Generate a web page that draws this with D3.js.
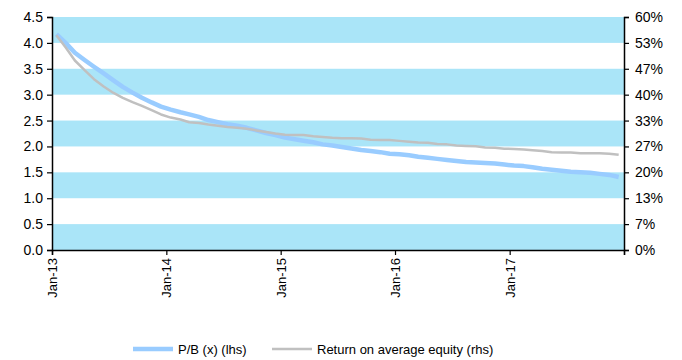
<!DOCTYPE html>
<html><head><meta charset="utf-8">
<script src="https://cdn.jsdelivr.net/npm/d3@7"></script>
<style>body{margin:0;background:#fff;} text{font-family:"Liberation Sans",Arial,sans-serif;fill:#000;}</style>
</head><body><svg id="c" width="682" height="360"></svg>
<script>
const startYear = 2013;
const pbValues = [4.17,3.99,3.81,3.67,3.54,3.41,3.28,3.15,3.04,2.94,2.85,2.77,
  2.71,2.66,2.62,2.57,2.51,2.47,2.43,2.40,2.36,2.31,2.26,2.22,
  2.17,2.14,2.11,2.08,2.04,2.02,1.99,1.96,1.93,1.91,1.89,1.86,
  1.85,1.83,1.80,1.78,1.76,1.74,1.72,1.70,1.69,1.68,1.67,1.65,
  1.63,1.62,1.60,1.57,1.55,1.53,1.51,1.50,1.49,1.47,1.45,1.41];
const roeValues = [55.3,52.0,48.8,46.3,44.0,42.1,40.5,39.2,38.1,37.1,36.0,34.9,
  34.1,33.6,32.9,32.7,32.3,32.0,31.7,31.5,31.2,30.8,30.4,30.0,
  29.7,29.6,29.6,29.3,29.1,28.9,28.8,28.8,28.7,28.4,28.3,28.3,
  28.1,27.9,27.7,27.6,27.3,27.2,26.9,26.8,26.7,26.4,26.3,26.1,
  26.0,25.9,25.7,25.5,25.2,25.1,25.1,24.9,24.9,24.9,24.8,24.5];
const leftTicks = [0,0.5,1,1.5,2,2.5,3,3.5,4,4.5];
const rightTicks = [0,60/9,120/9,20,240/9,300/9,40,420/9,480/9,60];
const xTickLabels = ["Jan-13","Jan-14","Jan-15","Jan-16","Jan-17"];
const seriesNames = ["P/B (x) (lhs)","Return on average equity (rhs)"];

const dates = pbValues.map((d,i)=>new Date(startYear, i, 15));
const svg = d3.select("#c");
const L=52, R=624, T=17, B=250;
const x = d3.scaleTime().domain([new Date(2013,0,1), new Date(2018,0,1)]).range([L,R]);
const yL = d3.scaleLinear().domain([0,4.5]).range([B,T]);
const yR = d3.scaleLinear().domain([0,60]).range([B,T]);

// bands
const bands = [0,1,2,3,4].map(k=>[k, k+0.5]);
svg.append("g").selectAll("rect").data(bands).join("rect")
  .attr("x",L).attr("width",R-L)
  .attr("y",d=>yL(d[1])).attr("height",d=>yL(d[0])-yL(d[1]))
  .attr("fill","#aae5f8");

const line = (ys,vals)=>d3.line().x((d,i)=>x(dates[i])).y(d=>ys(d))(vals);
svg.append("path").attr("d",line(yL,pbValues)).attr("fill","none")
  .attr("stroke","#99ccff").attr("stroke-width",4.5).attr("stroke-linejoin","round");
svg.append("path").attr("d",line(yR,roeValues)).attr("fill","none")
  .attr("stroke","#c0c0c0").attr("stroke-width",2.5).attr("stroke-linejoin","round");

// axes
const axL = d3.axisLeft(yL).tickValues(leftTicks).tickFormat(d3.format(".1f")).tickSizeOuter(0).tickSize(5).tickPadding(4);
const gL = svg.append("g").attr("transform",`translate(${L},0)`).call(axL);
const axR = d3.axisRight(yR).tickValues(rightTicks).tickFormat(d=>Math.round(d)+"%").tickSizeOuter(0).tickSize(5).tickPadding(6);
const gR = svg.append("g").attr("transform",`translate(${R},0)`).call(axR);
const xTicks = xTickLabels.map((s,i)=>new Date(startYear+i,0,1)).concat([new Date(2018,0,1)]);
const axX = d3.axisBottom(x).tickValues(xTicks).tickFormat((d,i)=>xTickLabels[i]||"").tickSizeOuter(0).tickSize(5);
const gX = svg.append("g").attr("transform",`translate(0,${B})`).call(axX);
gX.selectAll("text").attr("transform","rotate(-90)").attr("text-anchor","end")
  .attr("x",-8).attr("y",0).attr("dy","0.35em");
[gL,gR,gX].forEach(g=>{
  g.selectAll("path.domain").attr("stroke","#000").attr("stroke-width",1.5);
  g.selectAll(".tick line").attr("stroke","#000").attr("stroke-width",1.2);
  g.selectAll("text").attr("font-size",14).attr("font-family","Liberation Sans, Arial, sans-serif").attr("fill","#000");
});
gX.selectAll("text").attr("font-size",13);

// legend
const leg = svg.append("g");
const legItems = [{name:seriesNames[0],color:"#99ccff",w:4.5,x:133,tw:null},{name:seriesNames[1],color:"#c0c0c0",w:2.5,x:272}];
legItems.forEach(it=>{
  leg.append("line").attr("x1",it.x).attr("x2",it.x+40).attr("y1",349).attr("y2",349)
    .attr("stroke",it.color).attr("stroke-width",it.w);
  leg.append("text").attr("x",it.x+45).attr("y",349).attr("dy","0.35em").attr("font-size",13).text(it.name);
});
</script></body></html>
